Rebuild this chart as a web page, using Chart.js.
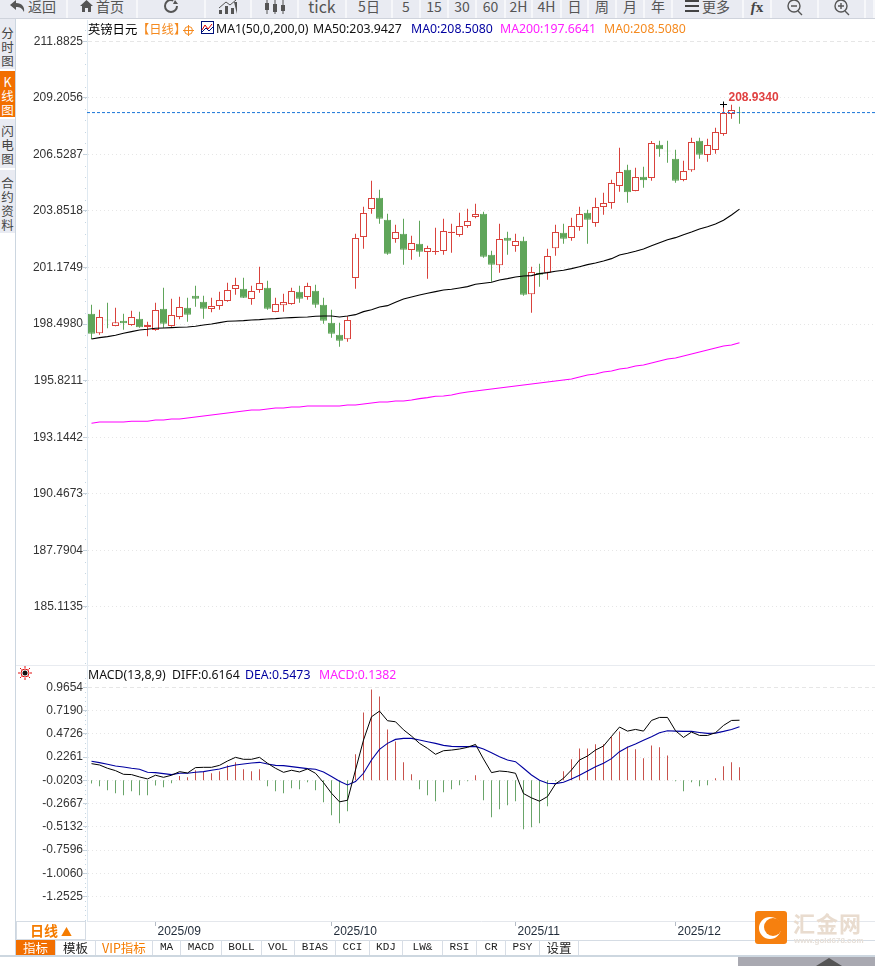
<!DOCTYPE html>
<html>
<head>
<meta charset="utf-8">
<title>英镑日元</title>
<script src="https://cdn.jsdelivr.net/npm/chart.js@4/dist/chart.umd.min.js"></script>
<style>
html, body { margin: 0; padding: 0; background: #fff; }
#page { position: relative; width: 875px; height: 966px; overflow: hidden; font-family: "Noto Sans CJK SC", "Noto Sans", sans-serif; }
canvas { position: absolute; }
.abs { position: absolute; white-space: nowrap; line-height: 1; }
.btn { position: absolute; top: 0; height: 18px; line-height: 13px; text-align: center; color: #555; font-size: 14px; border-right: 2px solid #f6f7fa; box-sizing: border-box; }
#toolbar { position: absolute; left: 0; top: 0; width: 875px; height: 19px; background: #e9ebf2; border-bottom: 1px solid #cfd3dc; box-sizing: border-box; overflow: hidden; }
.side { position: absolute; left: 0; width: 15px; background: #e9ebf2; color: #444; font-size: 12.5px; line-height: 14px; text-align: center; overflow: hidden; }
.legend { position: absolute; font: 12.3px "Noto Sans", sans-serif; white-space: nowrap; line-height: 1; }
.tab { position: absolute; top: 940px; height: 15px; line-height: 15px; text-align: center; font: 11px/15px "Liberation Mono", monospace; color: #222; border-right: 1px solid #d8dee6; box-sizing: border-box; }
.tab.cjk { font: 12.5px/15px "Noto Sans CJK SC", sans-serif; }
</style>
</head>
<body>
<div id="page">
  <canvas id="mainChart" width="859" height="665" style="left:16px;top:0"></canvas>
  <canvas id="macdChart" width="859" height="275" style="left:16px;top:665px"></canvas>

  <div id="toolbar"></div>

  <div class="side" style="top:19px;height:50px;padding-top:7px;box-sizing:border-box">分<br>时<br>图</div>
  <div class="side" style="top:71px;height:46px;padding-top:4px;box-sizing:border-box;background:#f26f00;color:#fff">K<br>线<br>图</div>
  <div class="side" style="top:119px;height:49px;padding-top:5px;box-sizing:border-box">闪<br>电<br>图</div>
  <div class="side" style="top:170px;height:63px;padding-top:6px;box-sizing:border-box">合<br>约<br>资<br>料</div>
  <div class="abs" style="left:15px;top:19px;width:1px;height:937px;background:#ccd6e0"></div>

  <div class="legend" style="left:88px;top:23px;color:#000;font-family:'Noto Sans CJK SC'">英镑日元</div>
  <div class="legend" style="left:137px;top:23px;color:#f58a1f;font-family:'Noto Sans CJK SC'">【日线】</div>
  <svg class="abs" style="left:183px;top:25px" width="11" height="11"><circle cx="5.5" cy="5.5" r="4" fill="none" stroke="#f58a1f"/><path d="M0 5.5H11M5.500 0V11" stroke="#f58a1f"/></svg>
  <svg class="abs" style="left:201px;top:21px" width="13" height="13"><rect x=".5" y=".5" width="12" height="12" fill="#fff" stroke="#00107a"/><path d="M1 9L4 4L7 8L11 3" fill="none" stroke="#d00"/><path d="M1 11L5 7L8 10L12 6" fill="none" stroke="#00107a"/></svg>
  <div class="legend" style="left:216px;top:23px;color:#111">MA1(50,0,200,0)</div>
  <div class="legend" style="left:313px;top:23px;color:#111">MA50:203.9427</div>
  <div class="legend" style="left:411px;top:23px;color:#0000a0">MA0:208.5080</div>
  <div class="legend" style="left:500px;top:23px;color:#ff20ff">MA200:197.6641</div>
  <div class="legend" style="left:604px;top:23px;color:#f58a1f">MA0:208.5080</div>

  <div class="abs" style="left:16px;top:665px;width:859px;height:1px;background:#e8ebf0"></div>
  <svg class="abs" style="left:18px;top:666px" width="14" height="14"><circle cx="7" cy="7" r="2.500" fill="#111"/><circle cx="7" cy="7" r="4" fill="none" stroke="#e01010"/><path d="M7 0V2M7 12V14M0 7H2M12 7H14M2 2L3.500 3.500M12 2L10.500 3.500M2 12L3.500 10.500M12 12L10.500 10.500" stroke="#e01010"/></svg>
  <div class="legend" style="left:88px;top:669px;color:#111">MACD(13,8,9)</div>
  <div class="legend" style="left:172px;top:669px;color:#111">DIFF:0.6164</div>
  <div class="legend" style="left:245px;top:669px;color:#0000a0">DEA:0.5473</div>
  <div class="legend" style="left:319px;top:669px;color:#ff20ff">MACD:0.1382</div>

  <div class="abs" style="left:16px;top:921px;width:70px;height:19px;box-sizing:border-box;border:1px solid #d5dce4;color:#f57c00;font:bold 14px/17px 'Noto Sans CJK SC';text-align:center">日线 <span style="font-size:11px">▲</span></div>
  <div class="abs" style="left:16px;top:940px;width:859px;height:1px;background:#d5dce4"></div>
  <div id="tabs"></div>
  <div class="abs" style="left:0;top:955px;width:875px;height:2px;background:#cdd7e0"></div>
  <div class="abs" style="left:738px;top:957px;width:137px;height:9px;background:#a9a9b1"></div>
  <svg class="abs" style="left:816px;top:958px" width="26" height="8"><path d="M0 8L13 0L26 8Z" fill="#555"/></svg>

  <svg class="abs" style="left:755px;top:911px" width="32" height="33"><rect width="32" height="33" rx="3" fill="#f6800f"/><circle cx="15" cy="17" r="11" fill="#fff"/><circle cx="18" cy="16" r="9" fill="#f6800f"/></svg>
  <div class="abs" style="left:793px;top:909px;color:#e9dccf;font:bold 22px/26px 'Noto Sans CJK SC';letter-spacing:1px">汇金网</div>
  <div class="abs" style="left:794px;top:936px;color:#e6dfd8;font:bold 8px/10px 'Liberation Sans'">www.gold678.com</div>
</div>

<script>
// 英镑日元 daily, 2025-08-20 .. 2025-12-11
const tradeDates = [
  '08/20','08/21','08/22','08/25','08/26','08/27','08/28','08/29',
  '09/01','09/02','09/03','09/04','09/05','09/08','09/09','09/10','09/11','09/12','09/15','09/16','09/17','09/18','09/19','09/22','09/23','09/24','09/25','09/26','09/29','09/30',
  '10/01','10/02','10/03','10/06','10/07','10/08','10/09','10/10','10/13','10/14','10/15','10/16','10/17','10/20','10/21','10/22','10/23','10/24','10/27','10/28','10/29','10/30','10/31',
  '11/03','11/04','11/05','11/06','11/07','11/10','11/11','11/12','11/13','11/14','11/17','11/18','11/19','11/20','11/21','11/24','11/25','11/26','11/27','11/28',
  '12/01','12/02','12/03','12/04','12/05','12/08','12/09','12/10','12/11'
];
const opens = [
  198.993,198.062,198.709,198.409,198.662,198.457,198.757,198.362,198.220,199.230,
  198.409,198.835,199.277,199.845,199.561,199.214,199.356,199.593,200.161,200.176,
  199.687,200.113,200.224,199.072,199.388,199.451,200.034,199.782,200.082,199.419,
  198.567,197.999,197.779,200.681,202.621,203.947,204.483,203.442,202.527,202.779,
  202.006,202.306,201.912,201.912,201.959,202.811,202.716,203.142,203.568,203.726,
  201.785,201.281,202.590,202.196,202.448,199.908,200.934,200.934,202.085,202.827,
  202.574,203.095,203.773,203.284,204.041,204.230,205.035,205.808,204.798,205.477,
  205.414,206.991,206.707,206.329,205.319,205.776,207.180,206.502,206.739,207.496,
  208.442,208.537
];
const closes = [
  198.047,198.835,198.678,198.583,198.536,198.835,198.346,198.457,199.167,198.520,
  198.930,199.309,198.946,199.703,199.230,199.356,199.640,200.113,200.350,199.750,
  200.066,200.444,199.230,199.451,199.545,200.066,199.703,200.303,199.419,198.662,
  198.047,197.715,198.693,202.574,203.757,204.467,203.489,201.833,202.858,202.022,
  202.337,201.927,202.101,201.959,202.905,202.874,203.142,203.379,203.710,201.691,
  201.312,202.527,202.448,202.432,199.892,200.965,200.839,201.722,202.858,202.543,
  203.142,203.710,203.442,204.041,204.230,205.177,205.698,204.735,205.461,205.303,
  207.070,206.770,206.676,205.287,205.745,207.117,206.518,206.975,207.591,208.490,
  208.632,208.508
];
const highs = [
  199.419,199.182,199.514,199.277,198.993,199.135,199.088,198.615,199.514,200.224,
  199.703,199.798,199.750,200.318,199.845,199.750,200.034,200.460,200.697,200.697,
  200.318,201.217,200.555,199.750,199.940,200.224,200.318,200.460,200.366,199.750,
  199.182,198.567,198.867,202.779,204.057,205.287,204.861,203.726,203.205,203.489,
  202.685,203.394,202.211,203.063,203.489,203.252,203.773,203.962,204.199,203.820,
  201.975,203.252,202.874,202.779,202.637,201.217,201.359,202.069,203.205,203.252,
  203.536,204.057,203.915,204.483,204.720,205.335,206.849,206.045,205.903,205.950,
  207.165,207.180,207.180,206.755,206.234,207.322,207.322,207.275,207.796,208.934,
  208.884,208.789
];
const lows = [
  197.794,197.999,198.299,198.394,198.236,198.425,198.331,197.920,198.189,198.331,
  198.378,198.725,198.615,199.324,198.757,199.056,199.182,199.561,199.892,199.735,
  199.419,199.987,199.182,199.056,199.088,199.419,199.514,199.656,199.277,198.520,
  197.857,197.431,197.668,200.176,202.069,203.726,203.252,201.785,202.353,201.312,
  201.549,201.691,200.650,201.785,201.785,201.880,202.637,203.063,203.505,201.643,
  200.508,200.934,201.785,201.927,199.845,199.041,200.271,200.602,201.738,202.306,
  202.448,202.921,202.306,203.110,203.678,203.962,204.767,204.246,204.783,204.956,
  205.287,206.423,206.139,205.193,205.256,205.713,206.329,206.187,206.565,207.417,
  208.222,207.985
];
const ma50 = [
  197.794,197.857,197.905,197.968,198.062,198.141,198.220,198.252,198.299,198.315,
  198.331,198.346,198.362,198.394,198.457,198.504,198.567,198.630,198.646,198.662,
  198.693,198.709,198.741,198.757,198.788,198.804,198.820,198.835,198.867,198.883,
  198.883,198.835,198.883,198.946,199.088,199.182,199.309,199.372,199.530,199.687,
  199.782,199.877,199.955,200.034,200.113,200.145,200.208,200.271,200.381,200.429,
  200.476,200.586,200.650,200.728,200.776,200.792,200.886,200.934,200.997,201.044,
  201.123,201.217,201.312,201.391,201.486,201.596,201.770,201.848,201.943,202.054,
  202.211,202.353,202.495,202.590,202.732,202.858,203.000,203.110,203.237,203.410,
  203.663,203.940
];
const ma200 = [
  193.803,193.866,193.866,193.866,193.866,193.898,193.898,193.898,193.961,193.961,
  194.008,194.008,194.055,194.103,194.150,194.197,194.245,194.292,194.339,194.387,
  194.434,194.434,194.481,194.529,194.529,194.576,194.576,194.623,194.623,194.623,
  194.623,194.623,194.671,194.671,194.718,194.765,194.813,194.813,194.860,194.860,
  194.907,194.970,195.020,195.081,195.096,195.144,195.223,195.286,195.333,195.380,
  195.428,195.475,195.522,195.570,195.617,195.664,195.712,195.759,195.806,195.854,
  195.901,195.996,196.090,196.138,196.232,196.280,196.374,196.421,196.516,196.563,
  196.658,196.753,196.847,196.895,196.989,197.084,197.179,197.273,197.368,197.463,
  197.510,197.620
];
const diff = [
  0.156,0.142,0.107,0.082,0.043,0.040,0.015,-0.006,0.033,0.011,
  0.033,0.071,0.057,0.114,0.117,0.117,0.138,0.184,0.223,0.202,
  0.202,0.223,0.160,0.107,0.064,0.086,0.068,0.100,0.054,-0.045,
  -0.158,-0.249,-0.232,0.089,0.406,0.653,0.713,0.611,0.600,0.515,
  0.448,0.371,0.318,0.255,0.293,0.300,0.311,0.329,0.360,0.205,
  0.061,0.078,0.071,0.054,-0.161,-0.207,-0.242,-0.193,-0.059,0.001,
  0.089,0.195,0.237,0.300,0.343,0.445,0.544,0.501,0.519,0.501,
  0.614,0.646,0.646,0.505,0.434,0.491,0.455,0.455,0.484,0.561,
  0.614,0.6164
];
const dea = [
  0.181,0.167,0.149,0.131,0.121,0.107,0.096,0.064,0.061,0.050,
  0.040,0.054,0.054,0.064,0.071,0.086,0.100,0.124,0.142,0.152,
  0.163,0.170,0.152,0.138,0.135,0.124,0.114,0.103,0.096,0.068,
  0.019,-0.031,-0.070,-0.034,0.054,0.195,0.308,0.371,0.413,0.424,
  0.424,0.406,0.389,0.371,0.350,0.339,0.336,0.336,0.339,0.311,
  0.272,0.230,0.195,0.177,0.107,0.036,-0.020,-0.052,-0.056,-0.041,
  -0.006,0.033,0.078,0.124,0.160,0.209,0.283,0.329,0.364,0.403,
  0.441,0.484,0.505,0.501,0.498,0.498,0.487,0.477,0.480,0.498,
  0.519,0.5473
];
const macdHist = [
  -0.035,-0.063,-0.106,-0.137,-0.159,-0.116,-0.159,-0.159,-0.056,-0.074,
  -0.032,0.046,0.032,0.106,0.088,0.074,0.095,0.159,0.190,0.116,
  0.095,0.116,-0.063,-0.116,-0.137,-0.085,-0.095,-0.021,-0.106,-0.233,
  -0.370,-0.455,-0.328,0.275,0.719,0.962,0.888,0.539,0.412,0.190,
  0.063,-0.095,-0.159,-0.222,-0.127,-0.095,-0.053,-0.011,0.053,-0.211,
  -0.391,-0.307,-0.264,-0.222,-0.518,-0.497,-0.455,-0.275,-0.011,0.095,
  0.222,0.338,0.338,0.381,0.381,0.465,0.518,0.359,0.328,0.233,
  0.370,0.349,0.264,-0.011,-0.116,-0.021,-0.063,-0.053,0.021,0.148,
  0.190,0.1382
];
const priceTicks = [211.8825,209.2056,206.5287,203.8518,201.1749,198.4980,195.8211,193.1442,190.4673,187.7904,185.1135];
const macdTicks = [0.9654,0.7190,0.4726,0.2261,-0.0203,-0.2667,-0.5132,-0.7596,-1.0060,-1.2525];
const monthTicks = ['2025/09','2025/10','2025/11','2025/12'];
const toolbarItems = [
  ['返回',0,68],['首页',68,138],['',138,206],['',206,252],['',252,299],['tick',299,347],['5日',347,393],
  ['5',393,421],['15',421,449],['30',449,477],['60',477,506],['2H',506,533],['4H',533,562],
  ['日',562,589],['周',589,617],['月',617,645],['年',645,673],['更多',673,744],['',744,772],['',772,819],['',819,866],['',866,875]
];
const tabItems = [
  ['指标',16,56],['模板',56,96],['VIP指标',96,153],['MA',153,181],['MACD',181,222],['BOLL',222,262],['VOL',262,295],
  ['BIAS',295,336],['CCI',336,370],['KDJ',370,403],['LW&',403,443],['RSI',443,477],['CR',477,506],['PSY',506,540],['设置',540,579]
];

const UP = '#d9423c';
const DOWN = '#5fa55a';
const GRID = '#e6e6e6';
const HIST_BASE = -0.0203;   // histogram sits on this axis level in the original
const PLOT_W = 788;
const STEP = 8;
const xMin = -0.5625;
const xMax = xMin + PLOT_W / STEP;
const lastClose = closes[closes.length - 1];

// toolbar
const iconSvg = {
  2: '<svg width="18" height="16"><circle cx="9" cy="6" r="6" fill="none" stroke="#555" stroke-width="2" stroke-dasharray="30 8"/><path d="M13 0L16 4L11 4Z" fill="#555"/></svg>',
  3: '<svg width="20" height="16"><path d="M1 14V10H4V14ZM7 14V6H10V14ZM13 14V8H16V14ZM19 14V2H16" fill="#555"/><path d="M1 8L8 2L12 5L18 0" stroke="#555" fill="none"/></svg>',
  4: '<svg width="22" height="16"><path d="M3 0V14M11 0V14M19 0V14" stroke="#555"/><path d="M1 3H5V10H1ZM9 4H13V12H9ZM17 5H21V11H17Z" fill="#555"/></svg>',
  18: '<span style="font:italic bold 15px/13px \'Liberation Serif\';color:#444">f<span style="font-style:normal">x</span></span>',
  19: '<svg width="18" height="16"><circle cx="8" cy="6" r="6" fill="none" stroke="#555" stroke-width="1.4"/><path d="M5 6H11M12 11L16 15" stroke="#555" stroke-width="1.4"/></svg>',
  20: '<svg width="18" height="16"><circle cx="8" cy="6" r="6" fill="none" stroke="#555" stroke-width="1.4"/><path d="M5 6H11M8 3V9M12 11L16 15" stroke="#555" stroke-width="1.4"/></svg>'
};
const toolbar = document.getElementById('toolbar');
toolbarItems.forEach(function(item, i) {
  const b = document.createElement('div');
  b.className = 'btn';
  b.style.left = item[1] + 'px';
  b.style.width = (item[2] - item[1]) + 'px';
  let html = item[0];
  if (i === 0) html = '<svg width="15" height="12"><path d="M0 5L6 0V3C12 3 15 7 14 12C12 8 10 7 6 7V10Z" fill="#555"/></svg> ' + html;
  if (i === 1) html = '<svg width="13" height="12"><path d="M0 6L6.500 0L13 6H11V12H8V8H5V12H2V6Z" fill="#555"/></svg> ' + html;
  if (i === 17) html = '<svg width="14" height="12"><path d="M0 1H14M0 6H14M0 11H14" stroke="#444" stroke-width="2"/></svg> ' + html;
  if (i === 5) b.style.fontSize = '16px';
  if (iconSvg[i]) html = iconSvg[i];
  b.innerHTML = html;
  toolbar.appendChild(b);
});

// bottom tabs
const tabs = document.getElementById('tabs');
tabItems.forEach(function(item, i) {
  const t = document.createElement('div');
  t.className = 'tab' + (/[^\x00-\x7f]/.test(item[0]) ? ' cjk' : '');
  t.textContent = item[0];
  t.style.left = item[1] + 'px';
  t.style.width = (item[2] - item[1]) + 'px';
  if (i === 0) { t.style.background = '#f26f00'; t.style.color = '#fff'; }
  if (i === 2) { t.style.color = '#f57c00'; }
  tabs.appendChild(t);
});

const points = (arr) => arr.map((y, i) => ({ x: i, y: y }));

function yAxis(ticks, min, max) {
  return {
    type: 'linear',
    min: min,
    max: max,
    afterBuildTicks: function(scale) { scale.ticks = ticks.map(v => ({ value: v })); },
    afterFit: function(scale) {
      // keep the plot area fixed, no room reserved for the end labels
      scale.width = 71;
      scale.paddingTop = 0;
      scale.paddingBottom = 0;
    },
    ticks: {
      autoSkip: false,
      padding: 0,
      color: '#333',
      font: { family: '"Liberation Sans"', size: 12 },
      callback: v => v.toFixed(4)
    },
    grid: {
      color: GRID,
      tickColor: '#c6d2dc',
      tickLength: 4,
      tickBorderDash: []
    },
    border: {
      color: '#dfe9f1',
      dash: (ctx) => (ctx.tick && ctx.tick.value === ticks[0] ? [4, 3] : [1, 3])
    }
  };
}

function xAxisBase() {
  return { type: 'linear', min: xMin, max: xMax, offset: false };
}

// small dots on the value axis, five to each labelled step
const minorTicks = {
  id: 'minorTicks',
  afterDatasetsDraw: function(chart, args, opts) {
    const scale = chart.scales.y;
    const c = chart.ctx;
    c.save();
    c.fillStyle = '#c6d6e2';
    const gap = Math.abs(scale.getPixelForValue(opts.values[1]) - scale.getPixelForValue(opts.values[0])) / 5;
    const first = scale.getPixelForValue(opts.values[0]);
    for (let y = first - gap * 2; y < chart.chartArea.bottom; y += gap) {
      if (y > chart.chartArea.top) c.fillRect(chart.chartArea.left - 2, Math.round(y), 1, 1);
    }
    c.restore();
  }
};

// label and cross on the highest high
const highMark = {
  id: 'highMark',
  afterDatasetsDraw: function(chart) {
    const idx = highs.indexOf(Math.max.apply(null, highs));
    const px = Math.floor(chart.scales.x.getPixelForValue(idx)) + 0.5;
    const py = Math.round(chart.scales.y.getPixelForValue(highs[idx])) + 0.5;
    const c = chart.ctx;
    c.save();
    c.strokeStyle = '#000';
    c.lineWidth = 1;
    c.beginPath();
    c.moveTo(px - 3.5, py); c.lineTo(px + 3.5, py);
    c.moveTo(px, py - 3); c.lineTo(px, py + 3);
    c.stroke();
    c.fillStyle = '#e04040';
    c.font = 'bold 12px "Liberation Sans"';
    c.textBaseline = 'middle';
    c.fillText(highs[idx].toFixed(4), px + 5, py - 7);
    c.restore();
  }
};

new Chart(document.getElementById('mainChart').getContext('2d'), {
  type: 'bar',
  plugins: [minorTicks, highMark],
  data: {
    datasets: [
      {
        type: 'line', data: [{ x: xMin, y: lastClose }, { x: xMax, y: lastClose }],
        borderColor: '#1874d8', borderWidth: 1, borderDash: [3, 2], pointRadius: 0, order: 1
      },
      {
        type: 'line', data: points(ma50), borderColor: '#000', borderWidth: 1.1, pointRadius: 0, tension: 0, order: 2
      },
      {
        type: 'line', data: points(ma200), borderColor: '#ff00ff', borderWidth: 1.1, pointRadius: 0, tension: 0, order: 2
      },
      {
        data: opens.map((o, i) => ({ x: i, y: [o, closes[i]] })),
        barThickness: 7,
        grouped: false,
        inflateAmount: 0,
        backgroundColor: opens.map((o, i) => closes[i] >= o ? '#fff' : DOWN),
        borderColor: opens.map((o, i) => closes[i] >= o ? UP : DOWN),
        borderWidth: 1,
        borderSkipped: false,
        order: 3
      },
      {
        data: opens.map((o, i) => ({ x: i, y: [lows[i], highs[i]] })),
        barThickness: 1,
        grouped: false,
        inflateAmount: 0,
        backgroundColor: opens.map((o, i) => closes[i] >= o ? UP : DOWN),
        order: 4
      }
    ]
  },
  options: {
    responsive: false,
    animation: false,
    events: [],
    layout: { padding: { top: 20, right: 0, bottom: 0, left: 0 } },
    plugins: {
      legend: { display: false },
      tooltip: { enabled: false },
      minorTicks: { values: priceTicks }
    },
    scales: {
      x: Object.assign(xAxisBase(), { display: false }),
      y: yAxis(priceTicks, 182.365, 212.8906)
    }
  }
});

const monthStarts = monthTicks.map(m => tradeDates.findIndex(d => d.slice(0, 2) === m.slice(5)));

new Chart(document.getElementById('macdChart').getContext('2d'), {
  type: 'bar',
  plugins: [minorTicks],
  data: {
    datasets: [
      {
        type: 'line', data: points(diff), borderColor: '#000', borderWidth: 1, pointRadius: 0, tension: 0, order: 1
      },
      {
        type: 'line', data: points(dea), borderColor: '#0000a0', borderWidth: 1.1, pointRadius: 0, tension: 0, order: 2
      },
      {
        data: macdHist.map((h, i) => ({ x: i, y: [HIST_BASE, HIST_BASE + h] })),
        barThickness: 1,
        grouped: false,
        inflateAmount: 0,
        backgroundColor: macdHist.map(h => h >= 0 ? '#c8524c' : '#6aa56a'),
        order: 3
      }
    ]
  },
  options: {
    responsive: false,
    animation: false,
    events: [],
    layout: { padding: { top: 1, right: 0, bottom: 0, left: 0 } },
    plugins: {
      legend: { display: false },
      tooltip: { enabled: false },
      minorTicks: { values: macdTicks }
    },
    scales: {
      x: Object.assign(xAxisBase(), {
        afterBuildTicks: function(scale) { scale.ticks = monthStarts.map(v => ({ value: v })); },
        afterFit: function(scale) { scale.height = 19; scale.paddingLeft = 0; scale.paddingRight = 0; },
        ticks: {
          autoSkip: false,
          maxRotation: 0,
          align: 'start',
          labelOffset: 2,
          padding: -2,
          color: '#1f2a38',
          font: { family: '"Liberation Sans"', size: 12 },
          callback: v => monthTicks[monthStarts.indexOf(v)]
        },
        grid: { drawOnChartArea: false, offset: false, tickColor: '#b5bcc6', tickLength: 5 },
        border: { color: '#e4e7ec' }
      }),
      y: yAxis(macdTicks, -1.5123, 1.1913)
    }
  }
});
</script>
</body>
</html>
